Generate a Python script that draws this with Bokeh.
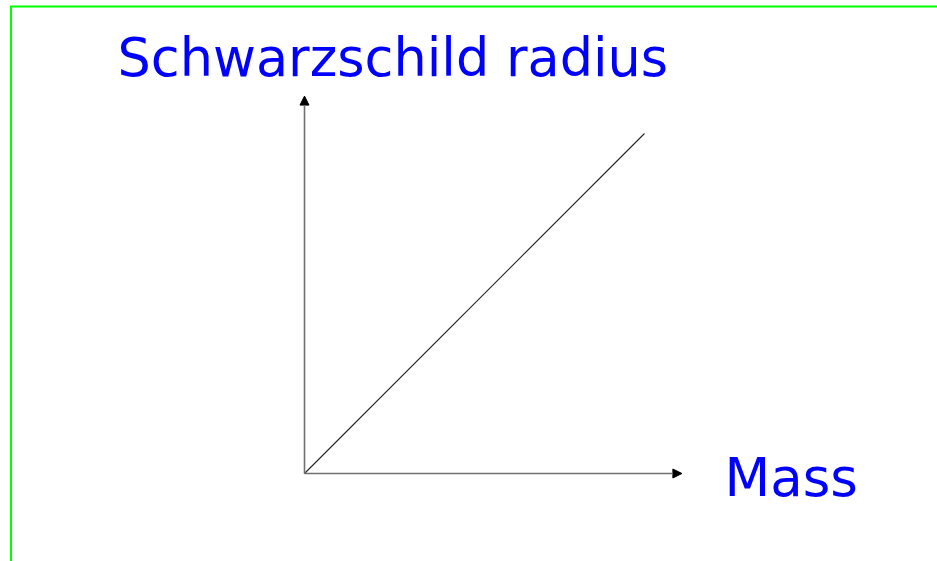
from bokeh.plotting import figure
from bokeh.models import Range1d, Arrow, NormalHead, Label, ColumnDataSource
from bokeh.embed import file_html
from bokeh.resources import INLINE

# ---- data ----
mass = [0.0, 1.0]
radius = [0.0, 1.0]
y_title = "Schwarzschild radius"
x_title = "Mass"
axis_extent = 1.11  # axes extend a bit beyond the data

# ---- layout (pixels) ----
W, H = 937, 561
OX, OY = 304, 473      # origin in canvas pixels (from left / from top)
SCALE = 340.0          # pixels per data unit

def dx(cx):
    return (cx - OX) / SCALE

def dy(cy):
    return (OY - cy) / SCALE

p = figure(width=W, height=H, output_backend="svg", toolbar_location=None,
           x_range=Range1d(dx(0), dx(W)), y_range=Range1d(dy(H), dy(0)),
           min_border=0, outline_line_color=None)
p.xaxis.visible = False
p.yaxis.visible = False
p.grid.visible = False
p.background_fill_color = "white"
p.border_fill_color = "white"

# green frame (left and top edges, meeting at the corner)
p.line([dx(10.5), dx(10.5), dx(W + 5)], [dy(H + 5), dy(6), dy(6)],
       line_color="#00ff00", line_width=2, line_join="miter")

# axes with arrows
p.add_layout(Arrow(end=NormalHead(size=9, fill_color="black", line_color="black"),
                   x_start=mass[0], y_start=radius[0], x_end=axis_extent * max(mass), y_end=radius[0],
                   line_color="#707070", line_width=1.6))
p.add_layout(Arrow(end=NormalHead(size=9, fill_color="black", line_color="black"),
                   x_start=mass[0], y_start=radius[0], x_end=mass[0], y_end=axis_extent * max(radius),
                   line_color="#707070", line_width=1.6))

# the relation line
src = ColumnDataSource(dict(x=mass, y=radius))
p.line("x", "y", source=src, line_color="#222222", line_width=1.1)

# labels
p.add_layout(Label(x=dx(117), y=dy(57), text=y_title, text_font="DejaVu Sans",
                   text_font_size="52.5px", text_color="#0000ff", text_baseline="alphabetic"))
p.add_layout(Label(x=dx(724), y=dy(477), text=x_title, text_font="DejaVu Sans",
                   text_font_size="53px", text_color="#0000ff", text_baseline="alphabetic"))

open("out.html", "w").write(file_html(p, INLINE))
